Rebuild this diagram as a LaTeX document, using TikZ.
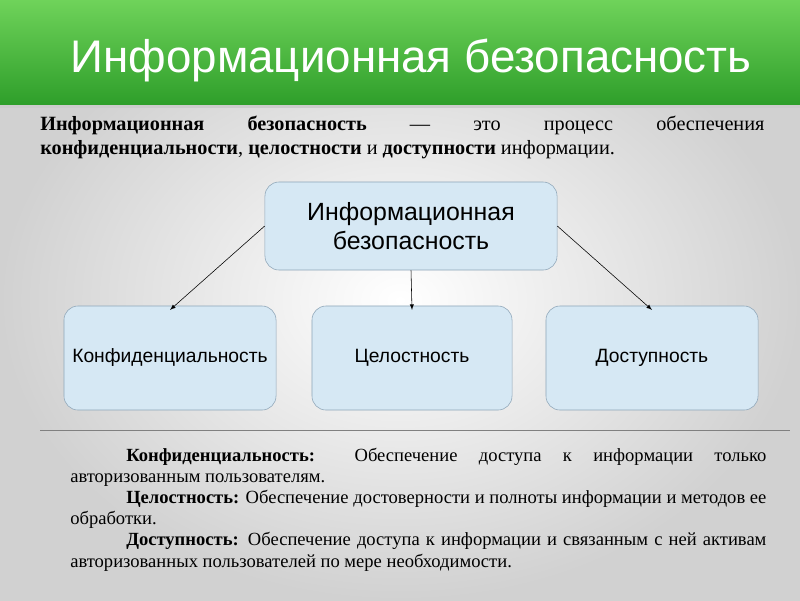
\documentclass[tikz,border=0pt]{standalone}
\usepackage{fontspec}
\setmainfont{Liberation Serif}
\setsansfont{Liberation Sans}
\usetikzlibrary{positioning}
\definecolor{boxfill}{HTML}{D6E8F4}
\definecolor{boxline}{HTML}{8FA6B8}
\definecolor{hdtop}{HTML}{6FD35A}
\definecolor{hdbot}{HTML}{2E9E2A}
\begin{document}
\begin{tikzpicture}[x=0.025cm,y=-0.025cm,
  blk/.style={draw=boxline,fill=boxfill,rounded corners=10pt,align=center,font=\sffamily\fontsize{13.7}{16}\selectfont},
  arr/.style={-latex,thin}]
%
\useasboundingbox (0,0) rectangle (800,600);
\shade[inner color=white,outer color=black!18] (0,0) rectangle (800,600);
\shade[top color=hdtop,bottom color=hdbot] (0,0) rectangle (800,105);
\fill[black!20] (0,105) rectangle (800,108);
%
\node[text=white,font=\sffamily\fontsize{32.5}{38}\selectfont] (title) at (411,60) {Информационная безопасность};
%
\node[anchor=north west,inner sep=0pt,text width=18.1cm,align=justify,font=\fontsize{14.4}{17}\selectfont] (def) at (40,116)
{\noindent\hangindent=0.7cm\hangafter=1\textbf{Информационная безопасность} — это процесс обеспечения \textbf{конфиденциальности}, \textbf{целостности} и \textbf{доступности} информации.};
%
\node[blk,minimum width=7.3cm,minimum height=2.2cm,font=\sffamily\fontsize{17.7}{21}\selectfont] (top) at (411,226) {Информационная\\безопасность};
\node[blk,minimum width=5.3cm,minimum height=2.6cm] (conf) at (170,358) {Конфиденциальность};
\node[blk,minimum width=5.0cm,minimum height=2.6cm] (integ) at (412,358) {Целостность};
\node[blk,minimum width=5.3cm,minimum height=2.6cm] (avail) at (652,358) {Доступность};
%
\draw[arr] (top.west) -- ([yshift=-3pt]conf.north);
\draw[arr] (top.south) -- ([yshift=-3pt]integ.north);
\draw[arr] (top.east) -- ([yshift=-3pt]avail.north);
%
\coordinate (rl) at (40,430);
\coordinate (rr) at (790,430);
\draw[black!50] (rl) -- (rr);
%
\node[anchor=north west,inner sep=0pt,text width=17.4cm,align=justify,font=\fontsize{13.2}{15}\selectfont] (notes) at (70,448)
{\setlength{\parindent}{1.4cm}\indent\textbf{Конфиденциальность:} Обеспечение доступа к информации только авторизованным пользователям.\par
\textbf{Целостность:} Обеспечение достоверности и полноты информации и методов ее обработки.\par
\textbf{Доступность:} Обеспечение доступа к информации и связанным с ней активам авторизованных пользователей по мере необходимости.\par};
%
\end{tikzpicture}
\end{document}
